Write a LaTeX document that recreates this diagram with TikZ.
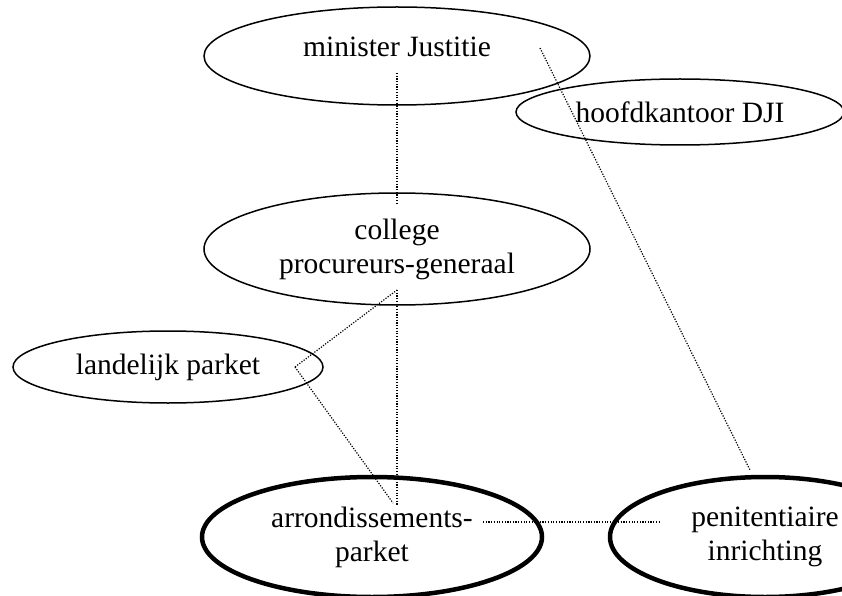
\documentclass[tikz,border=0pt]{standalone}
\usepackage{fontspec}
\setmainfont{Liberation Serif}
\usetikzlibrary{shapes.geometric}
\usetikzlibrary{calc}

\begin{document}
\begin{tikzpicture}[x = 1bp, y = -1bp,
  unit/.style = {ellipse, draw, line width = 1.5bp, inner sep = 0pt, align = center,
    font = \fontsize{29.5bp}{34bp}\selectfont},
  key unit/.style = {unit, line width = 4.5bp},
  link/.style = {line width = 1.2bp, dash pattern = on 1.2bp off 1.5bp}]

\useasboundingbox (0, 0) rectangle (842, 596);
\clip (0, 0) rectangle (842, 596);

% organisation units
\node[unit, minimum width = 386bp, minimum height = 98bp, text depth = 18bp] (minister) at (397, 56) {minister Justitie};
\node[unit, minimum width = 328bp, minimum height = 66bp] (dji) at (680, 112) {hoofdkantoor DJI};
\node[unit, minimum width = 386bp, minimum height = 112bp] (college) at (397, 249) {college\\procureurs-generaal};
\node[unit, minimum width = 310bp, minimum height = 72bp] (landelijk) at (168, 367) {landelijk parket};
\node[key unit, minimum width = 340bp, minimum height = 120bp] (arrond) at (372, 537) {arrondissements-\\parket};
\node[key unit, minimum width = 310bp, minimum height = 120bp] (pi) at (765, 537) {penitentiaire\\inrichting};

% lines of authority
\draw[link] ($(minister.center) + (0, 17)$) -- ($(college.center) + (0, -44)$);
\draw[link] ($(minister.center) + (143, -8)$) -- ($(pi.center) + (-15, -67)$);
\draw[link] ($(college.center) + (0, 41)$) -- ($(arrond.center) + (25, -32)$);
\draw[link] ($(landelijk.center) + (127, 0)$) -- ($(college.center) + (0, 41)$);
\draw[link] ($(landelijk.center) + (127, 0)$) -- ($(arrond.center) + (21, -34)$);
\draw[link] ($(arrond.center) + (111, -15)$) -- ($(pi.center) + (-105, -15)$);
\end{tikzpicture}
\end{document}
